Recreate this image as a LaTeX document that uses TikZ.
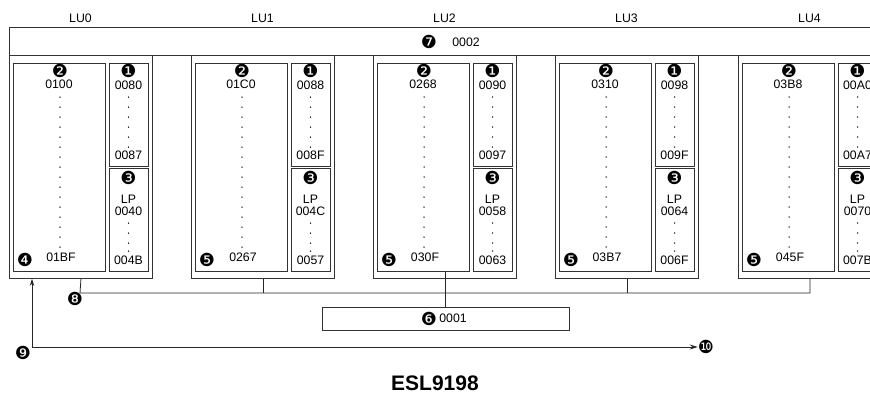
\documentclass[tikz,border=0pt]{standalone}
\usepackage{fontspec}
\setmainfont{Liberation Sans}
\newfontfamily\dingf{DejaVu Sans}
\usetikzlibrary{arrows.meta}
\begin{document}
\begin{tikzpicture}[x=1pt,y=-1pt,
  box/.style={draw=black!80, line width=0.9pt, inner sep=0pt, anchor=north west},
  lbl/.style={font=\fontsize{12.3}{12.3}\selectfont, inner sep=0pt},
  num/.style={font=\dingf\fontsize{18}{18}\selectfont, inner sep=0pt},
  wire/.style={draw=black!85, line width=0.8pt},
  dotf/.style={fill=black}
  ]
\useasboundingbox (0,0) rectangle (870,397);
\clip (0,0) rectangle (870,397);
% top bar
\node[box, minimum width=900pt, minimum height=28pt] (bar) at (9,27) {};
\node[num] (n7) at (429,42) {❼};
\node[lbl] (v7) at (466,42) {0002};
\foreach \i/\x/\a/\b/\c/\d/\e/\f/\m in {
  0/9/0100/01BF/0080/0087/0040/004B/❹,
  1/191/01C0/0267/0088/008F/004C/0057/❺,
  2/373/0268/030F/0090/0097/0058/0063/❺,
  3/555/0310/03B7/0098/009F/0064/006F/❺,
  4/738/03B8/045F/00A0/00A7/0070/007B/❺}{
  \node[lbl] (lu\i) at (\x+71.5,18) {LU\i};
  \node[box, minimum width=143pt, minimum height=223pt] (o\i) at (\x,55) {};
  \node[box, minimum width=92pt, minimum height=208pt] (a\i) at (\x+4,63) {};
  \node[box, minimum width=39pt, minimum height=103pt] (b\i) at (\x+100,63) {};
  \node[box, minimum width=39pt, minimum height=103pt] (c\i) at (\x+100,168) {};
  \foreach \yy in {97,107,...,247} \fill[dotf] (\x+51,\yy) circle (0.75pt);
  \foreach \yy in {97,107,...,147} \fill[dotf] (\x+119.5,\yy) circle (0.75pt);
  \foreach \yy in {223,233,243,251} \fill[dotf] (\x+119.5,\yy) circle (0.75pt);
  \node[num] (t2\i) at (\x+51,71) {❷};
  \node[lbl] (ta\i) at (\x+50,84) {\a};
  \node[lbl] (tb\i) at (\x+52,257) {\b};
  \node[num] (tm\i) at (\x+16,260) {\m};
  \node[num] (t1\i) at (\x+119.5,71) {❶};
  \node[lbl] (tc\i) at (\x+119.5,85) {\c};
  \node[lbl] (td\i) at (\x+119.5,155) {\d};
  \node[num] (t3\i) at (\x+119.5,178) {❸};
  \node[lbl] (lp\i) at (\x+119.5,199) {LP};
  \node[lbl] (te\i) at (\x+119.5,211) {\e};
  \node[lbl] (tf\i) at (\x+119.5,260) {\f};
}
% bus
\coordinate (bl) at (80,293);
\coordinate (br) at (810,293);
\draw[wire] (o0.south) -- (bl) -- (br) -- (o4.south -| br);
\draw[wire] (o1.south) -- (o1.south |- bl);
\draw[wire] (o3.south) -- (o3.south |- bl);
\node[box, minimum width=247pt, minimum height=23pt] (b6) at (322,307) {};
\node[num] (n6) at (429,318.5) {❻};
\node[lbl] (t6) at (453,318.5) {0001};
\draw[wire] (a2.south -| o2.south) -- (b6.north -| o2.south);
\node[num] (n8) at (75,299) {❽};
% arrows
\coordinate (p9) at (32,347);
\node[num] (n9) at (23,353) {❾};
\node[num] (n10) at (706,347) {❿};
\draw[wire, -{Stealth[length=7pt,width=4.5pt]}] (p9) -- (o0.south -| p9);
\draw[wire, -{Stealth[length=8pt,width=5pt]}] (p9) -- (n10.west);
\node[font=\bfseries\fontsize{21}{21}\selectfont, inner sep=0pt] (esl) at (435,383) {ESL9198};
\end{tikzpicture}
\end{document}
